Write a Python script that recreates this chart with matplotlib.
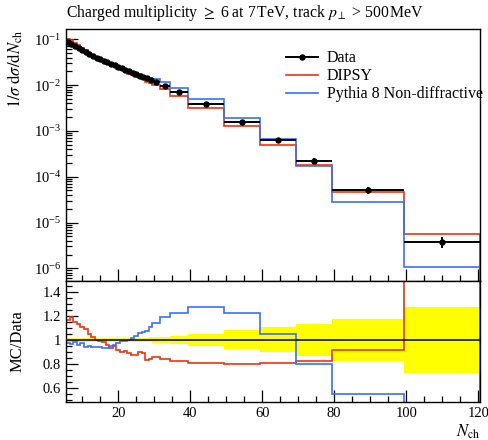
import numpy as np
import matplotlib
matplotlib.use("Agg")
import matplotlib.pyplot as plt
from matplotlib.lines import Line2D
from matplotlib.ticker import MultipleLocator, FixedLocator, LogLocator, NullFormatter, FuncFormatter

# ---------------- data ----------------
bin_edges = [5.5, 6.5, 7.5, 8.5, 9.5, 10.5, 11.5, 12.5, 13.5, 14.5, 15.5, 16.5, 17.5,
             18.5, 19.5, 20.5, 21.5, 22.5, 23.5, 24.5, 25.5, 26.5, 27.5, 28.5, 29.5,
             31.5, 34.5, 39.5, 49.5, 59.5, 69.5, 79.5, 99.5, 120.5]

data_vals = [0.0891, 0.0800, 0.0719, 0.0649, 0.0586, 0.0531, 0.0479, 0.0432, 0.0398,
             0.0368, 0.0340, 0.0315, 0.0292, 0.0270, 0.0251, 0.0232, 0.0214, 0.0200,
             0.0186, 0.0174, 0.0162, 0.0151, 0.0141, 0.0132, 0.0119, 0.0097, 0.0071,
             0.00386, 0.00158, 6.2e-4, 2.2e-4, 5.1e-5, 3.75e-6]

data_relerr = [0.015, 0.015, 0.015, 0.015, 0.015, 0.015, 0.015, 0.015, 0.015, 0.015,
               0.015, 0.015, 0.015, 0.015, 0.015, 0.017, 0.017, 0.017, 0.018, 0.018,
               0.019, 0.020, 0.020, 0.021, 0.022, 0.026, 0.032, 0.052, 0.080, 0.105,
               0.137, 0.179, 0.275]

dipsy_vals = [0.1040, 0.0952, 0.0827, 0.0737, 0.0650, 0.0579, 0.0503, 0.0443, 0.0398,
              0.0364, 0.0333, 0.0302, 0.0272, 0.0257, 0.0230, 0.0209, 0.0195, 0.0178,
              0.0163, 0.0152, 0.0145, 0.0134, 0.0117, 0.0111, 0.01017, 0.00815, 0.00587,
              0.00311, 0.001264, 5.02e-4, 1.82e-4, 4.67e-5, 5.70e-6]

pythia_vals = [0.0871, 0.0774, 0.0705, 0.0622, 0.0570, 0.0501, 0.0455, 0.0406, 0.0374,
               0.0346, 0.0316, 0.0293, 0.0277, 0.0259, 0.0245, 0.0229, 0.0213, 0.0200,
               0.0189, 0.0180, 0.0172, 0.0161, 0.0152, 0.0146, 0.01357, 0.01154, 0.00873,
               0.00494, 0.00194, 6.50e-4, 1.75e-4, 2.79e-5, 1.09e-6]

labels = ["Data", "DIPSY", "Pythia 8 Non-diffractive"]
title = r"Charged multiplicity $\geq$ 6 at 7$\,$TeV, track $p_\perp$ > 500$\,$MeV"

# ---------------- style ----------------
plt.rcParams['font.family'] = ['Liberation Serif', 'DejaVu Serif']
plt.rcParams['mathtext.fontset'] = 'stix'
RED = '#ee3311'
BLUE = '#3a6eff'

edges = np.array(bin_edges)
centers = 0.5 * (edges[:-1] + edges[1:])
halfw = 0.5 * (edges[1:] - edges[:-1])
d = np.array(data_vals)
rel = np.array(data_relerr)
dip = np.array(dipsy_vals)
pyt = np.array(pythia_vals)

fig = plt.figure(figsize=(4.89, 4.40), dpi=100)
W, H = 489.0, 440.0
L, R = 66 / W, 480 / W
ax = fig.add_axes([L, 1 - 281 / H, R - L, (281 - 29) / H])
axr = fig.add_axes([L, 1 - 402 / H, R - L, (402 - 281) / H], sharex=ax)

# main panel
ax.stairs(dip, edges, color=RED, lw=1.2, zorder=2)
ax.stairs(pyt, edges, color=BLUE, lw=1.2, zorder=2)
ax.errorbar(centers, d, xerr=halfw, yerr=d * rel, fmt='o', color='black', ms=3.6,
            elinewidth=1.4, capsize=0, zorder=3)
ax.set_yscale('log')
ax.set_ylim(10 ** -6.277, 10 ** -0.775)
ax.set_xlim(edges[0], edges[-1])

# ratio panel
lo = np.append(1 - rel, 1 - rel[-1])
hi = np.append(1 + rel, 1 + rel[-1])
axr.fill_between(edges, lo, hi, step='post', color='#ffff00', lw=0, zorder=1)
axr.axhline(1.0, color='#222222', lw=1.3, zorder=3)
axr.stairs(dip / d, edges, color=RED, lw=1.2, zorder=2)
axr.stairs(pyt / d, edges, color=BLUE, lw=1.2, zorder=2)
axr.set_ylim(0.48, 1.494)

# ticks
for a in (ax, axr):
    a.tick_params(which='both', direction='in', top=False, right=False, labelsize=10.5)
    a.tick_params(which='major', length=8.5, width=0.9)
    a.tick_params(which='minor', length=4.3, width=0.9)
    for s in a.spines.values():
        s.set_linewidth(1.0)
ax.xaxis.set_major_locator(MultipleLocator(20))
ax.xaxis.set_minor_locator(MultipleLocator(5))
ax.tick_params(labelbottom=False)
ax.yaxis.set_major_locator(LogLocator(base=10, numticks=20))
ax.yaxis.set_minor_locator(LogLocator(base=10, subs=np.arange(2, 10), numticks=20))
ax.yaxis.set_minor_formatter(NullFormatter())
axr.yaxis.set_major_locator(FixedLocator([0.6, 0.8, 1.0, 1.2, 1.4]))
axr.yaxis.set_minor_locator(MultipleLocator(0.05))
axr.yaxis.set_major_formatter(FuncFormatter(lambda v, p: ('%g' % v)))

# labels
fig.text(15 / W, 1 - 30 / H, r'$1/\sigma\;\mathrm{d}\sigma/\mathrm{d}N_\mathrm{ch}$',
         fontsize=12, rotation=90, ha='center', va='top')
fig.text(18 / W, 1 - 341 / H, 'MC/Data', fontsize=12, rotation=90, ha='center', va='center')
axr.set_xlabel(r'$N_\mathrm{ch}$', fontsize=12, loc='right', labelpad=2)
fig.text(L, 1 - 13 / H, title, fontsize=11.3, ha='left', va='center')

# legend
handles = [Line2D([], [], color='black', marker='o', ms=3.6, lw=1.4),
           Line2D([], [], color=RED, lw=1.2),
           Line2D([], [], color=BLUE, lw=1.2)]
ax.legend(handles, labels, loc='upper left',
          bbox_to_anchor=(0.531, 0.915), frameon=False, fontsize=11.5,
          handlelength=2.0, handletextpad=0.55, labelspacing=0.12, borderpad=0,
          borderaxespad=0)

fig.savefig('out.png', dpi=100)
